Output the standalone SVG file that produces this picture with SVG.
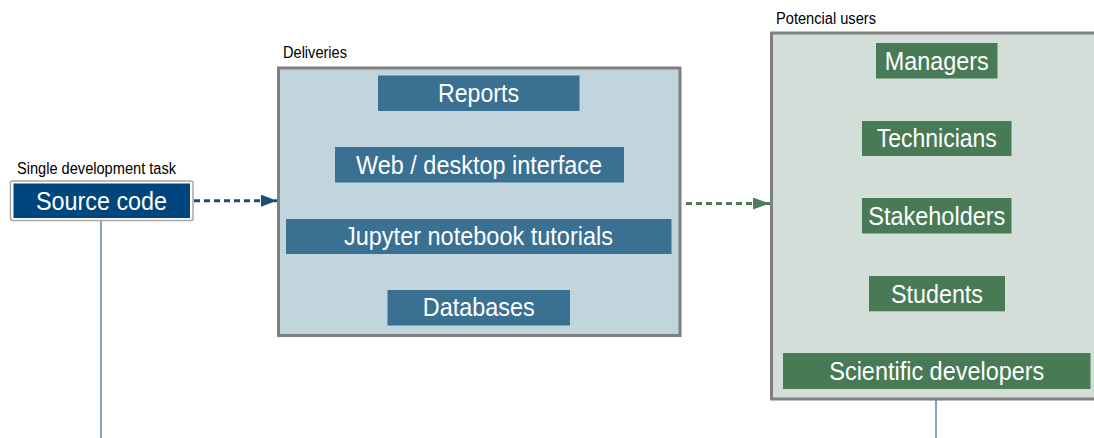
<svg xmlns="http://www.w3.org/2000/svg" width="1094" height="438" viewBox="0 0 1094 438">
<style>
.lbl{font-family:"Liberation Sans",Arial,sans-serif;font-size:16px;fill:#000}
.t{font-family:"Liberation Sans",Arial,sans-serif;font-size:25.5px;fill:#fff;text-anchor:middle}
.blue{fill:#3a7091}
.green{fill:#477a55}
.frame{stroke:#7f7f7f;stroke-width:3}
</style>
<defs>
<marker id="ab" viewBox="0 0 16 12" refX="16" refY="6" markerWidth="16" markerHeight="12" markerUnits="userSpaceOnUse" orient="auto">
<path d="M0,0 L16,6 L0,12 Z" fill="#1e4b7a"/>
</marker>
<marker id="ag" viewBox="0 0 17 12" refX="17" refY="6" markerWidth="17" markerHeight="12" markerUnits="userSpaceOnUse" orient="auto">
<path d="M0,0 L17,6 L0,12 Z" fill="#4f7d5b"/>
</marker>
</defs>
<rect width="1094" height="438" fill="#fff"/>
<g id="connectors">
<line x1="101" y1="220" x2="101" y2="438" stroke="#8aa4bf" stroke-width="2"/>
<line x1="936" y1="400" x2="936" y2="438" stroke="#8aa4bf" stroke-width="2"/>
<line x1="194" y1="200.7" x2="277" y2="200.7" stroke="#1e4b7a" stroke-width="3" stroke-dasharray="6,4" marker-end="url(#ab)"/>
<line x1="686" y1="203.5" x2="770" y2="203.5" stroke="#4f7d5b" stroke-width="3" stroke-dasharray="6,4" marker-end="url(#ag)"/>
</g>
<g id="source">
<text class="lbl" x="17" y="174" textLength="159" lengthAdjust="spacingAndGlyphs">Single development task</text>
<rect x="10.5" y="181" width="182.5" height="39.5" rx="2" fill="#fff" stroke="#a6a6a6" stroke-width="1.5"/>
<rect x="13.5" y="183.5" width="176.5" height="34.5" fill="#00457c"/>
<text class="t" x="101.5" y="209.5" textLength="131" lengthAdjust="spacingAndGlyphs">Source code</text>
</g>
<g id="deliveries">
<text class="lbl" x="283" y="57.5" textLength="64" lengthAdjust="spacingAndGlyphs">Deliveries</text>
<rect class="frame" x="278.5" y="68" width="401.5" height="267.5" fill="#c0d5dc"/>
</g>
<g id="reports">
<rect class="blue" x="378" y="75.5" width="201.5" height="35.5"/>
<text class="t" x="478.5" y="102" textLength="81" lengthAdjust="spacingAndGlyphs">Reports</text>
</g>
<g id="web">
<rect class="blue" x="335" y="147" width="289" height="35.5"/>
<text class="t" x="479" y="174" textLength="246" lengthAdjust="spacingAndGlyphs">Web / desktop interface</text>
</g>
<g id="jupyter">
<rect class="blue" x="286" y="219" width="385.5" height="35"/>
<text class="t" x="478.5" y="244.5" textLength="269" lengthAdjust="spacingAndGlyphs">Jupyter notebook tutorials</text>
</g>
<g id="databases">
<rect class="blue" x="387.5" y="290" width="182.5" height="35.5"/>
<text class="t" x="478.8" y="316" textLength="112" lengthAdjust="spacingAndGlyphs">Databases</text>
</g>
<g id="users">
<text class="lbl" x="776" y="24" textLength="100" lengthAdjust="spacingAndGlyphs">Potencial users</text>
<rect class="frame" x="771.5" y="33" width="330" height="366" fill="#d3ded8"/>
</g>
<g id="managers">
<rect class="green" x="876" y="43" width="121.5" height="35.5"/>
<text class="t" x="936.8" y="70" textLength="104" lengthAdjust="spacingAndGlyphs">Managers</text>
</g>
<g id="technicians">
<rect class="green" x="862" y="121" width="149.5" height="35"/>
<text class="t" x="936.8" y="147" textLength="120" lengthAdjust="spacingAndGlyphs">Technicians</text>
</g>
<g id="stakeholders">
<rect class="green" x="862" y="198" width="149.5" height="35.5"/>
<text class="t" x="936.8" y="224.5" textLength="137" lengthAdjust="spacingAndGlyphs">Stakeholders</text>
</g>
<g id="students">
<rect class="green" x="869" y="276" width="136" height="35.3"/>
<text class="t" x="937" y="302.5" textLength="92" lengthAdjust="spacingAndGlyphs">Students</text>
</g>
<g id="scientific">
<rect class="green" x="783" y="353" width="307.5" height="36"/>
<text class="t" x="936.8" y="380" textLength="215" lengthAdjust="spacingAndGlyphs">Scientific developers</text>
</g>
</svg>
